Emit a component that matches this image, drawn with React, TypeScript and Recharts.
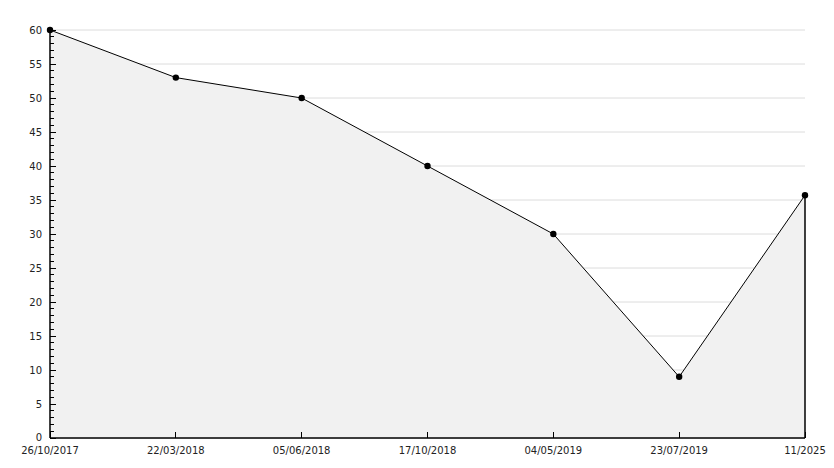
import React from "react";
import {
  AreaChart,
  Area,
  XAxis,
  YAxis,
  CartesianGrid,
  ReferenceLine,
} from "recharts";

const categories = [
  "26/10/2017",
  "22/03/2018",
  "05/06/2018",
  "17/10/2018",
  "04/05/2019",
  "23/07/2019",
  "11/2025",
];
const values = [60, 53, 50, 40, 30, 9, 35.7];
const majorTicks = [0, 5, 10, 15, 20, 25, 30, 35, 40, 45, 50, 55, 60];
const allTicks = [
  0, 1, 2, 3, 4, 5, 6, 7, 8, 9, 10, 11, 12, 13, 14, 15, 16, 17, 18, 19, 20,
  21, 22, 23, 24, 25, 26, 27, 28, 29, 30, 31, 32, 33, 34, 35, 36, 37, 38, 39,
  40, 41, 42, 43, 44, 45, 46, 47, 48, 49, 50, 51, 52, 53, 54, 55, 56, 57, 58,
  59, 60,
];

const data = categories.map((c, i) => ({ date: c, value: values[i] }));
const FONT = "'DejaVu Sans', Verdana, sans-serif";

const YTick = (props: any) => {
  const { x, y, payload } = props;
  const v = payload.value;
  const major = v % 5 === 0;
  return (
    <g>
      <line
        x1={x}
        x2={x + (major ? 6 : 4)}
        y1={y}
        y2={y}
        stroke="#000"
        strokeWidth={1}
        shapeRendering="crispEdges"
      />
      {major && (
        <text
          x={x - 8}
          y={v === 0 ? y - 1 : y}
          textAnchor="end"
          dominantBaseline="central"
          fontSize={10}
          fontFamily={FONT}
          fill="#222"
        >
          {v}
        </text>
      )}
    </g>
  );
};

const XTick = (props: any) => {
  const { x, y, payload } = props;
  return (
    <g>
      <line
        x1={x}
        x2={x}
        y1={y}
        y2={y - 6}
        stroke="#000"
        strokeWidth={1}
        shapeRendering="crispEdges"
      />
      <text
        x={x}
        y={y + 12}
        textAnchor="middle"
        dominantBaseline="central"
        fontSize={10}
        fontFamily={FONT}
        fill="#222"
      >
        {payload.value}
      </text>
    </g>
  );
};

const Dot = (props: any) => {
  const { cx, cy } = props;
  if (cx == null || cy == null) return null;
  return <circle cx={cx} cy={cy} r={3.2} fill="#000" stroke="none" />;
};

export default function App() {
  return (
    <div style={{ position: "absolute", left: 0, top: 0, background: "#fff" }}>
      <AreaChart
        width={834}
        height={468}
        data={data}
        margin={{ top: 30, right: 29, bottom: 0, left: 0 }}
      >
        <CartesianGrid
          horizontal={true}
          vertical={false}
          stroke="#dcdcdc"
          strokeDasharray=""
          horizontalValues={majorTicks}
        />
        <XAxis
          dataKey="date"
          height={30}
          tickLine={false}
          tickSize={0}
          tickMargin={0}
          axisLine={{ stroke: "#000", strokeWidth: 1.5 }}
          tick={<XTick />}
          interval={0}
        />
        <YAxis
          width={50}
          domain={[0, 60]}
          ticks={allTicks}
          interval={0}
          tickLine={false}
          tickSize={0}
          tickMargin={0}
          axisLine={{ stroke: "#000", strokeWidth: 1.5 }}
          tick={<YTick />}
          allowDecimals={true}
        />
        <Area
          type="linear"
          dataKey="value"
          stroke="#000"
          strokeWidth={1}
          fill="#f1f1f1"
          fillOpacity={1}
          dot={<Dot />}
          activeDot={false}
          isAnimationActive={false}
        />
        <ReferenceLine
          segment={[
            { x: categories[categories.length - 1], y: 0 },
            { x: categories[categories.length - 1], y: values[values.length - 1] },
          ]}
          stroke="#000"
          strokeWidth={1.5}
          ifOverflow="visible"
        />
      </AreaChart>
    </div>
  );
}
